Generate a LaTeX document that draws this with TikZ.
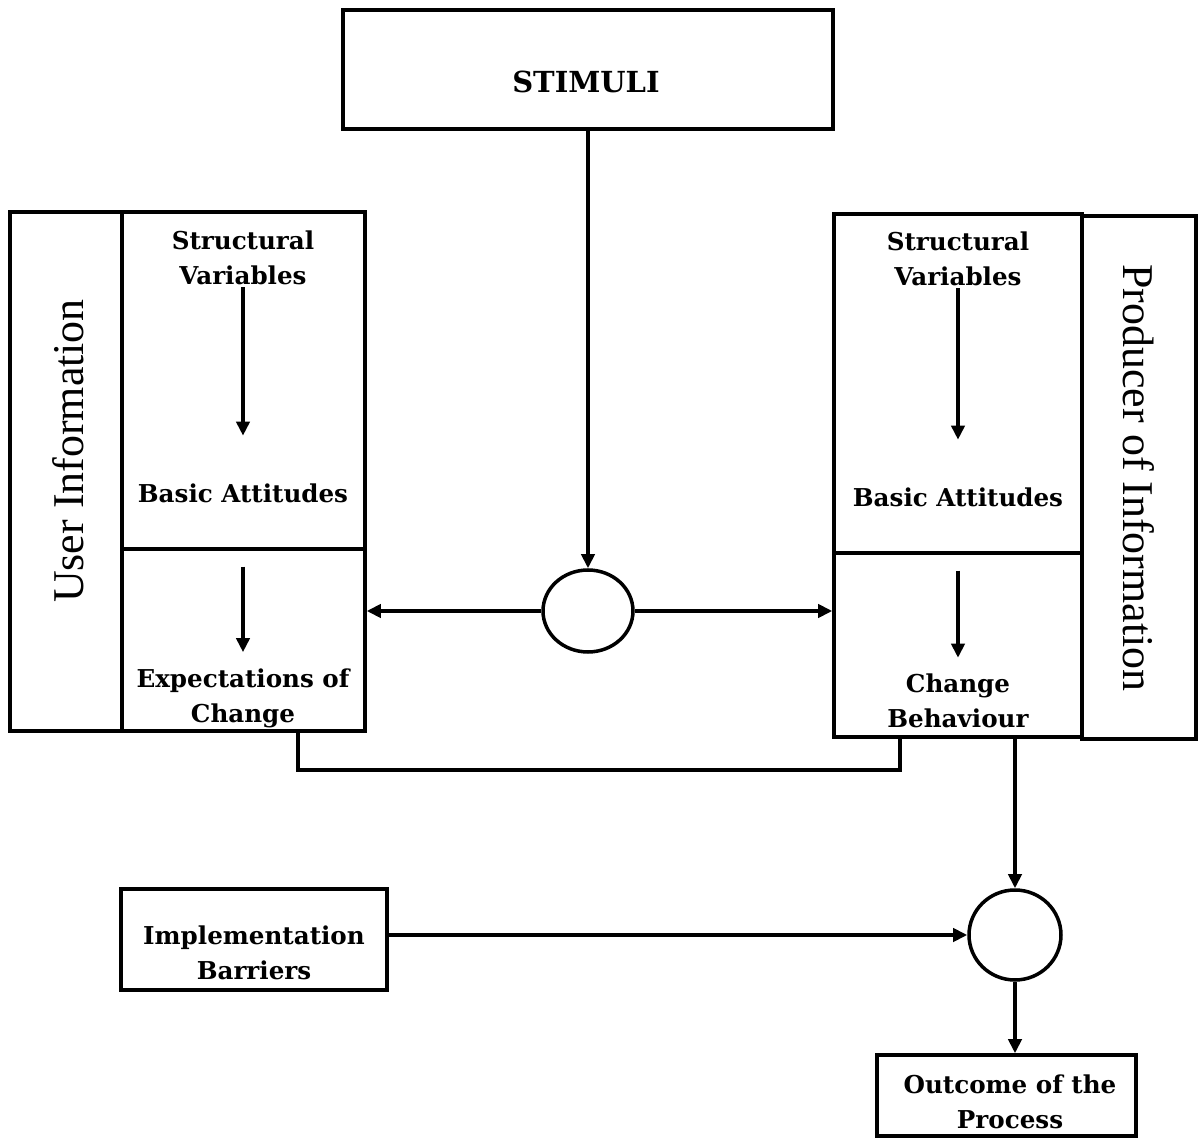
\documentclass[tikz,border=0pt]{standalone}
\usepackage{fontspec}
\setmainfont{Liberation Serif}
\newfontfamily\labelfont{DejaVu Serif}
\usetikzlibrary{arrows.meta,positioning,fit,shapes.geometric}

\tikzset{
  frame/.style={draw, line width=2pt, inner sep=0pt},
  lbl/.style={font=\labelfont\bfseries\fontsize{14}{20}\selectfont, align=center, inner sep=1pt},
  sidetitle/.style={font=\fontsize{25}{30}\selectfont, inner sep=0pt},
  junction/.style={draw, ellipse, line width=2pt, inner sep=0pt},
  link/.style={line width=2pt},
  arr/.style={link, -{Triangle[length=8pt,width=7.5pt]}}
}

\begin{document}
\begin{tikzpicture}[x=0.02cm, y=-0.02cm]
  \useasboundingbox (0,0) rectangle (1201,1138);

  % stimuli on top
  \node[frame, fit={(343,10) (833,129)}] (stimuli) {};
  \node[lbl, font=\labelfont\bfseries\fontsize{16.5}{20}\selectfont] (stimtxt) at (586,82) {STIMULI};

  % user side
  \node[frame, fit={(10,212) (122,731)}] (userside) {};
  \node[frame, fit={(122,212) (365,549)}] (userupper) {};
  \node[frame, fit={(122,549) (365,731)}] (userlower) {};
  \node[sidetitle, rotate=90] (usertitle) at (68,451) {User Information};
  \node[lbl] (usv) at (243,258) {Structural\\Variables};
  \node[lbl] (uba) at (243,493) {Basic Attitudes};
  \node[lbl] (uec) at (243,698) {Expectations of\\Change};

  % producer side
  \node[frame, fit={(834,214) (1082,553)}] (produpper) {};
  \node[frame, fit={(834,553) (1082,737)}] (prodlower) {};
  \node[frame, fit={(1082,216) (1196,739)}] (prodside) {};
  \node[sidetitle, rotate=-90] (prodtitle) at (1139,478) {Producer of Information};
  \node[lbl] (psv) at (958,259) {Structural\\Variables};
  \node[lbl] (pba) at (958,497) {Basic Attitudes};
  \node[lbl] (pcb) at (958,701) {Change\\Behaviour};

  % junctions and lower boxes
  \node[junction, minimum width=1.8cm, minimum height=1.64cm] (hub) at (588,611) {};
  \node[junction, minimum width=1.84cm, minimum height=1.8cm] (merge) at (1015,935) {};
  \node[frame, fit={(121,889) (387,990)}] (barriers) {};
  \node[lbl] (bartxt) at (254,953) {Implementation\\Barriers};
  \node[frame, fit={(877,1055) (1136,1136)}] (outcome) {};
  \node[lbl] (outtxt) at (1010,1102) {Outcome of the\\Process};

  \coordinate (ufoot) at (298,731);
  \coordinate (pfoot) at (900,737);

  % connectors
  \draw[arr, shorten >=26pt] (usv.south) -- (uba.north);
  \draw[arr, shorten <=11pt, shorten >=8pt] (userlower.north -| uec) -- (uec.north);
  \draw[arr, shorten >=26pt] (psv.south) -- (pba.north);
  \draw[arr, shorten <=11pt, shorten >=8pt] (prodlower.north -| pcb) -- (pcb.north);
  \draw[arr] (stimuli.south -| hub) -- (hub.north);
  \draw[arr] (hub.west) -- (hub.west -| userlower.east);
  \draw[arr] (hub.east) -- (hub.east -| prodlower.west);
  \draw[link] (ufoot) -- (ufoot |- 0,770) -| (pfoot);
  \draw[arr] (prodlower.south -| merge) -- (merge.north);
  \draw[arr] (barriers.east |- merge) -- (merge.west);
  \draw[arr] (merge.south) -- (merge.south |- outcome.north);
\end{tikzpicture}
\end{document}
